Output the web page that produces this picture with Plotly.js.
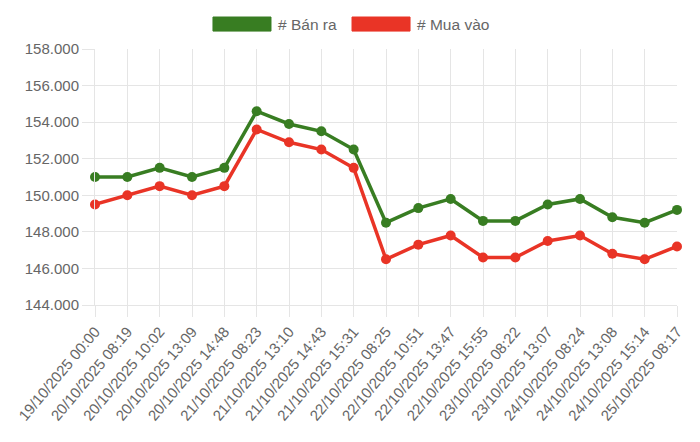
<!DOCTYPE html>
<html>
<head>
<meta charset="utf-8">
<script src="https://cdn.plot.ly/plotly-3.0.1.min.js"></script>
<style>
  html, body { margin: 0; padding: 0; background: #fff; }
  #chart { width: 700px; height: 442px; }
</style>
</head>
<body>
<div id="chart"></div>
<script>
var labels = [
  '19/10/2025 00:00', '20/10/2025 08:19', '20/10/2025 10:02', '20/10/2025 13:09',
  '20/10/2025 14:48', '21/10/2025 08:23', '21/10/2025 13:10', '21/10/2025 14:43',
  '21/10/2025 15:31', '22/10/2025 08:25', '22/10/2025 10:51', '22/10/2025 13:47',
  '22/10/2025 15:55', '23/10/2025 08:22', '23/10/2025 13:07', '24/10/2025 08:24',
  '24/10/2025 13:08', '24/10/2025 15:14', '25/10/2025 08:17'
];

var banRa = [
  151000, 151000, 151500, 151000, 151500, 154600, 153900, 153500, 152500, 148500,
  149300, 149800, 148600, 148600, 149500, 149800, 148800, 148500, 149200
];

var muaVao = [
  149500, 150000, 150500, 150000, 150500, 153600, 152900, 152500, 151500, 146500,
  147300, 147800, 146600, 146600, 147500, 147800, 146800, 146500, 147200
];

var seriesNames = ['# Bán ra', '# Mua vào'];
var seriesColors = ['#387d22', '#e93426'];

var font = 'Liberation Sans, Helvetica, Arial, sans-serif';

function lineTrace(y, i) {
  return {
    x: labels,
    y: y,
    type: 'scatter',
    mode: 'lines+markers',
    name: seriesNames[i],
    line: { color: seriesColors[i], width: 3.5 },
    marker: { color: seriesColors[i], size: 10 },
    cliponaxis: false
  };
}

var data = [lineTrace(banRa, 0), lineTrace(muaVao, 1)];

// legend drawn by hand: wide filled boxes like the original chart
var legendBoxLeft = [0.2027, 0.4416];
var boxW = 0.0997;
var shapes = [];
var annotations = [];
for (var i = 0; i < seriesNames.length; i++) {
  shapes.push({
    type: 'rect', xref: 'paper', yref: 'paper',
    x0: legendBoxLeft[i], x1: legendBoxLeft[i] + boxW,
    y0: 1.070, y1: 1.125,
    fillcolor: seriesColors[i],
    line: { color: seriesColors[i], width: 1 }
  });
  annotations.push({
    xref: 'paper', yref: 'paper',
    x: legendBoxLeft[i] + boxW + 0.009, y: 1.0975,
    xanchor: 'left', yanchor: 'middle',
    text: seriesNames[i], showarrow: false,
    font: { family: font, size: 15.5, color: '#666' }
  });
}

var layout = {
  width: 700,
  height: 442,
  margin: { l: 95, r: 23, t: 49, b: 137, pad: 0 },
  paper_bgcolor: '#fff',
  plot_bgcolor: '#fff',
  separators: ',.',
  font: { family: font, size: 15, color: '#666' },
  showlegend: false,
  shapes: shapes,
  annotations: annotations,
  xaxis: {
    type: 'category',
    range: [0, labels.length - 1],
    showgrid: true,
    gridcolor: '#e5e5e5',
    gridwidth: 1,
    showline: true,
    linecolor: '#e5e5e5',
    ticks: 'outside',
    ticklen: 11,
    tickcolor: '#e5e5e5',
    tickangle: -50,
    tickfont: { family: font, size: 15, color: '#666' },
    zeroline: false,
    fixedrange: true
  },
  yaxis: {
    range: [144000, 158000],
    dtick: 2000,
    tick0: 144000,
    tickformat: ',d',
    showgrid: true,
    gridcolor: '#e5e5e5',
    gridwidth: 1,
    showline: true,
    linecolor: '#e5e5e5',
    ticks: 'outside',
    ticklen: 12,
    tickcolor: '#e5e5e5',
    tickfont: { family: font, size: 15, color: '#666' },
    zeroline: false,
    fixedrange: true
  }
};

Plotly.newPlot('chart', data, layout, { displayModeBar: false, staticPlot: true });
</script>
</body>
</html>
